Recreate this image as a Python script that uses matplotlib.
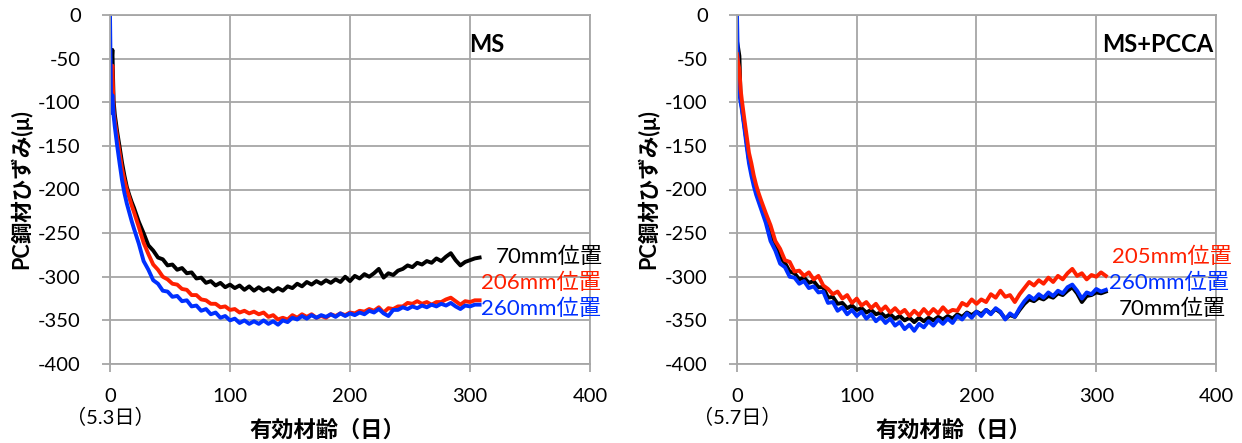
import matplotlib
matplotlib.use("Agg")
import matplotlib.pyplot as plt
import matplotlib.transforms as mtransforms

plt.rcParams['font.family'] = ['Lato', 'Noto Sans CJK JP', 'DejaVu Sans']
plt.rcParams['axes.unicode_minus'] = False

# ---------------- data ----------------
days = [0, 1, 2, 3, 4, 6, 8, 10, 12, 14, 16, 18,
        20, 24, 28, 32, 36, 40, 44, 48, 52, 56, 60, 64, 68, 72, 76, 80, 84, 88, 92, 96,
        100, 104, 108, 112, 116, 120, 124, 128, 132, 136, 140, 144, 148, 152, 156, 160,
        164, 168, 172, 176, 180, 184, 188, 192, 196, 200, 204, 208, 212, 216, 220, 224,
        228, 232, 236, 240, 244, 248, 252, 256, 260, 264, 268, 272, 276, 280, 284, 288,
        292, 296, 300, 304, 308]

# MS panel
ms_70 = [-88, -62, -40, -98, -114, -134, -151, -169, -184, -197, -206, -214,
         -221, -237, -250, -264, -270, -278, -280, -287, -286, -292, -290, -296, -295, -302, -301, -307, -305, -310, -307, -312,
         -309, -313, -310, -315, -311, -316, -312, -316, -313, -317, -313, -316, -311, -313, -308, -311,
         -306, -309, -305, -308, -304, -307, -303, -306, -300, -305, -299, -302, -297, -300, -296, -291,
         -301, -296, -298, -293, -291, -287, -289, -284, -286, -282, -284, -279, -282, -277, -273, -281,
         -287, -283, -281, -279, -278]
ms_206 = [-102, -80, -58, -110, -121, -140, -158, -176, -189, -200, -209, -218,
          -226, -243, -261, -274, -286, -292, -300, -303, -308, -309, -314, -315, -321, -321, -326, -327, -331, -331, -335, -334,
          -338, -337, -341, -339, -342, -340, -343, -341, -346, -344, -349, -347, -349, -344, -347, -343,
          -346, -343, -347, -345, -347, -343, -345, -342, -344, -341, -342, -339, -340, -337, -339, -335,
          -341, -336, -337, -334, -334, -330, -331, -328, -331, -329, -332, -329, -329, -326, -324, -328,
          -332, -328, -329, -327, -327]
ms_260 = [0, -112, -92, -115, -128, -150, -170, -189, -204, -216, -226, -236,
          -245, -262, -282, -292, -304, -308, -316, -317, -323, -322, -328, -327, -334, -333, -339, -337, -343, -341, -347, -345,
          -350, -348, -353, -350, -354, -351, -354, -350, -354, -351, -355, -350, -352, -347, -349, -345,
          -348, -344, -347, -344, -346, -343, -346, -342, -345, -342, -344, -341, -343, -339, -341, -337,
          -342, -345, -338, -338, -335, -337, -334, -336, -333, -335, -332, -334, -331, -333, -330, -334,
          -337, -333, -334, -332, -332]

# MS+PCCA panel
pc_205 = [-45, -55, -62, -85, -97, -118, -138, -158, -170, -184, -195, -204,
          -212, -227, -241, -259, -268, -281, -283, -294, -293, -299, -295, -303, -299, -310, -314, -320, -317, -325, -321, -330,
          -325, -333, -329, -336, -331, -339, -334, -341, -336, -342, -338, -345, -339, -344, -337, -343,
          -337, -342, -335, -341, -338, -339, -330, -333, -326, -331, -326, -329, -320, -324, -316, -323,
          -321, -329, -320, -313, -306, -310, -304, -308, -301, -306, -299, -303, -296, -291, -299, -296,
          -303, -298, -300, -295, -299]
pc_260 = [0, -72, -90, -100, -108, -128, -150, -170, -184, -196, -206, -214,
          -222, -238, -259, -270, -285, -289, -300, -301, -308, -305, -313, -311, -318, -317, -330, -329, -339, -335, -343, -338,
          -345, -340, -348, -343, -351, -346, -353, -348, -356, -352, -360, -355, -362, -354, -358, -351,
          -356, -349, -354, -348, -353, -345, -349, -342, -347, -340, -345, -338, -343, -336, -340, -349,
          -342, -346, -336, -328, -322, -326, -320, -324, -318, -322, -316, -319, -312, -309, -316, -325,
          -318, -320, -314, -317, -315]
pc_70 = [-30, -38, -47, -95, -105, -125, -145, -166, -178, -190, -201, -209,
         -217, -231, -251, -264, -278, -284, -294, -296, -303, -301, -307, -305, -312, -312, -324, -323, -331, -330, -336, -333,
         -338, -336, -341, -338, -343, -341, -346, -343, -348, -345, -350, -347, -352, -347, -351, -347,
         -350, -346, -349, -345, -348, -343, -346, -341, -344, -340, -343, -338, -342, -337, -341, -348,
         -344, -346, -338, -331, -326, -328, -324, -326, -322, -324, -319, -321, -316, -312, -319, -329,
         -322, -321, -318, -319, -317]

xticks = [0, 100, 200, 300, 400]
yticks = [0, -50, -100, -150, -200, -250, -300, -350, -400]

BLACK = '#000000'
RED = '#ff2000'
BLUE = '#0030ff'
GRID = '#a6a6a6'
LW = 2.8

W, H = 1242, 443
fig = plt.figure(figsize=(W / 100, H / 100), dpi=100)


def make_axes(left_px, right_px, top_px=15, bottom_px=364):
    return fig.add_axes([left_px / W, 1 - bottom_px / H,
                         (right_px - left_px) / W, (bottom_px - top_px) / H])


def style(ax, start_label):
    ax.set_xlim(0, 400)
    ax.set_ylim(-400, 0)
    ax.set_xticks(xticks)
    ax.set_yticks(yticks)
    ax.grid(True, color=GRID, linewidth=1.3)
    ax.set_axisbelow(True)
    for s in ax.spines.values():
        s.set_color(GRID)
        s.set_linewidth(1.3)
    ax.tick_params(axis='both', color=GRID, length=6, width=1.3,
                   labelsize=14.5, labelcolor='black')
    ax.tick_params(axis='y', pad=15)
    ax.tick_params(axis='x', pad=11)
    ax.text(-0.186, 0.5, 'PC鋼材ひずみ(μ)', transform=ax.transAxes, rotation=90,
            ha='center', va='center', fontsize=15.5, fontweight='bold')
    tr = mtransforms.blended_transform_factory(ax.transData, ax.transAxes)
    ax.text(0, -0.152, start_label, transform=tr, ha='center', va='center',
            fontsize=14.5, clip_on=False)
    ax.text(181, -0.19, '有効材齢（日）', transform=tr, ha='center', va='center',
            fontsize=16, fontweight='bold', clip_on=False)


# ---- left: MS ----
ax1 = make_axes(110, 590)
style(ax1, '（5.3日）')
ax1.plot(days, ms_70, color=BLACK, lw=LW)
ax1.plot(days, ms_206, color=RED, lw=LW)
ax1.plot(days, ms_260, color=BLUE, lw=LW)
ax1.text(0.785, 0.915, 'MS', transform=ax1.transAxes, ha='center', va='center',
         fontsize=17, fontweight='bold')
ax1.text(411, -277, '70mm位置', color=BLACK, ha='right', va='center', fontsize=16, clip_on=False)
ax1.text(409, -307, '206mm位置', color=RED, ha='right', va='center', fontsize=16, clip_on=False)
ax1.text(409, -337, '260mm位置', color=BLUE, ha='right', va='center', fontsize=16, clip_on=False)

# ---- right: MS+PCCA ----
ax2 = make_axes(737, 1216)
style(ax2, '（5.7日）')
ax2.plot(days, pc_70, color=BLACK, lw=LW)
ax2.plot(days, pc_260, color=BLUE, lw=LW)
ax2.plot(days, pc_205, color=RED, lw=LW)
ax2.text(0.879, 0.915, 'MS+PCCA', transform=ax2.transAxes, ha='center', va='center',
         fontsize=17, fontweight='bold')
ax2.text(413, -277, '205mm位置', color=RED, ha='right', va='center', fontsize=16, clip_on=False)
ax2.text(411, -307, '260mm位置', color=BLUE, ha='right', va='center', fontsize=16, clip_on=False)
ax2.text(408, -337, '70mm位置', color=BLACK, ha='right', va='center', fontsize=16, clip_on=False)

fig.savefig('out.png', dpi=100)
